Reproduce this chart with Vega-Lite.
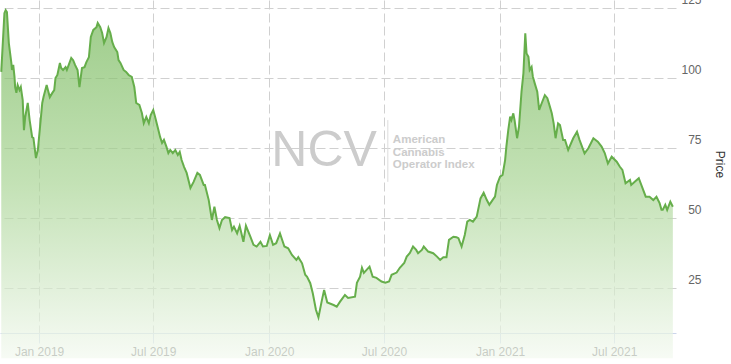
{
  "$schema": "https://vega.github.io/schema/vega-lite/v6.json",
  "width": 676,
  "height": 333,
  "autosize": {"type": "none"},
  "padding": {"left": 0, "top": 0, "right": 55, "bottom": 31},
  "background": "white",
  "config": {"view": {"stroke": null}, "font": "Liberation Sans"},
  "datasets": {
    "price": [
      {"date":"2018-11-02","price":102.3},{"date":"2018-11-07","price":123.3},{"date":"2018-11-09","price":124.4},{"date":"2018-11-11","price":123.7},{"date":"2018-11-14","price":112.6},{"date":"2018-11-18","price":105.5},{"date":"2018-11-19","price":103.0},{"date":"2018-11-21","price":104.8},{"date":"2018-11-23","price":100.5},{"date":"2018-11-24","price":96.9},{"date":"2018-11-26","price":94.8},{"date":"2018-11-28","price":97.6},{"date":"2018-12-01","price":95.8},{"date":"2018-12-03","price":96.9},{"date":"2018-12-06","price":92.2},{"date":"2018-12-08","price":81.5},{"date":"2018-12-10","price":86.2},{"date":"2018-12-14","price":91.2},{"date":"2018-12-17","price":85.1},{"date":"2018-12-21","price":79.0},{"date":"2018-12-23","price":78.7},{"date":"2018-12-27","price":71.5},{"date":"2018-12-30","price":74.4},
      {"date":"2019-01-02","price":81.5},{"date":"2019-01-06","price":91.2},{"date":"2019-01-08","price":93.3},{"date":"2019-01-13","price":97.6},{"date":"2019-01-15","price":95.8},{"date":"2019-01-18","price":93.3},{"date":"2019-01-22","price":94.8},{"date":"2019-01-25","price":95.8},{"date":"2019-01-27","price":100.1},{"date":"2019-01-30","price":101.2},{"date":"2019-02-03","price":105.5},{"date":"2019-02-05","price":103.7},{"date":"2019-02-08","price":103.0},{"date":"2019-02-12","price":104.0},{"date":"2019-02-14","price":103.0},{"date":"2019-02-17","price":104.8},{"date":"2019-02-21","price":107.3},{"date":"2019-02-24","price":106.5},{"date":"2019-02-27","price":104.8},{"date":"2019-03-03","price":103.0},{"date":"2019-03-06","price":96.9},{"date":"2019-03-10","price":103.7},{"date":"2019-03-14","price":104.0},{"date":"2019-03-17","price":105.8},{"date":"2019-03-21","price":107.6},{"date":"2019-03-24","price":114.8},{"date":"2019-03-28","price":117.3},{"date":"2019-04-02","price":118.3},{"date":"2019-04-04","price":119.8},{"date":"2019-04-08","price":118.3},{"date":"2019-04-11","price":116.2},{"date":"2019-04-14","price":112.6},{"date":"2019-04-18","price":114.8},{"date":"2019-04-21","price":118.0},{"date":"2019-04-24","price":116.2},{"date":"2019-04-27","price":113.0},{"date":"2019-04-30","price":111.2},{"date":"2019-05-05","price":109.4},{"date":"2019-05-07","price":106.5},{"date":"2019-05-10","price":105.5},{"date":"2019-05-15","price":103.0},{"date":"2019-05-19","price":102.3},{"date":"2019-05-23","price":101.2},{"date":"2019-05-28","price":100.5},{"date":"2019-06-01","price":96.9},{"date":"2019-06-04","price":91.2},{"date":"2019-06-09","price":90.5},{"date":"2019-06-13","price":87.6},{"date":"2019-06-16","price":84.0},{"date":"2019-06-20","price":86.2},{"date":"2019-06-24","price":84.0},{"date":"2019-06-27","price":86.9},{"date":"2019-07-01","price":88.7},{"date":"2019-07-04","price":86.2},{"date":"2019-07-08","price":82.6},{"date":"2019-07-12","price":79.0},{"date":"2019-07-15","price":76.9},{"date":"2019-07-18","price":78.0},{"date":"2019-07-22","price":75.5},{"date":"2019-07-25","price":73.3},{"date":"2019-07-28","price":74.4},{"date":"2019-08-01","price":73.3},{"date":"2019-08-05","price":74.4},{"date":"2019-08-09","price":72.6},{"date":"2019-08-12","price":73.7},{"date":"2019-08-15","price":70.8},{"date":"2019-08-19","price":68.3},{"date":"2019-08-23","price":66.2},{"date":"2019-08-29","price":60.8},{"date":"2019-09-03","price":63.0},{"date":"2019-09-09","price":66.2},{"date":"2019-09-13","price":65.5},{"date":"2019-09-19","price":61.9},{"date":"2019-09-21","price":61.9},{"date":"2019-09-27","price":56.5},{"date":"2019-10-02","price":49.4},{"date":"2019-10-06","price":54.1},{"date":"2019-10-10","price":49.4},{"date":"2019-10-14","price":46.5},{"date":"2019-10-18","price":49.4},{"date":"2019-10-23","price":50.4},{"date":"2019-10-30","price":50.1},{"date":"2019-11-03","price":45.8},{"date":"2019-11-06","price":47.0},{"date":"2019-11-11","price":44.6},{"date":"2019-11-15","price":47.3},{"date":"2019-11-21","price":41.6},{"date":"2019-11-25","price":47.3},{"date":"2019-12-02","price":43.4},{"date":"2019-12-07","price":40.5},{"date":"2019-12-12","price":39.9},{"date":"2019-12-18","price":41.6},{"date":"2019-12-22","price":39.9},{"date":"2019-12-28","price":40.1},
      {"date":"2020-01-02","price":44.0},{"date":"2020-01-07","price":40.5},{"date":"2020-01-12","price":41.1},{"date":"2020-01-18","price":44.6},{"date":"2020-01-25","price":39.9},{"date":"2020-01-31","price":39.3},{"date":"2020-02-06","price":36.9},{"date":"2020-02-13","price":35.1},{"date":"2020-02-16","price":36.1},{"date":"2020-02-22","price":33.9},{"date":"2020-02-27","price":29.8},{"date":"2020-03-01","price":29.1},{"date":"2020-03-06","price":26.8},{"date":"2020-03-10","price":23.2},{"date":"2020-03-15","price":17.3},{"date":"2020-03-19","price":14.6},{"date":"2020-03-24","price":20.2},{"date":"2020-03-28","price":24.4},{"date":"2020-04-02","price":19.9},{"date":"2020-04-12","price":19.0},{"date":"2020-04-17","price":18.4},{"date":"2020-04-22","price":20.1},{"date":"2020-04-30","price":22.6},{"date":"2020-05-05","price":21.5},{"date":"2020-05-16","price":22.0},{"date":"2020-05-19","price":26.9},{"date":"2020-05-24","price":29.1},{"date":"2020-05-27","price":32.3},{"date":"2020-05-30","price":30.5},{"date":"2020-06-08","price":32.7},{"date":"2020-06-13","price":29.1},{"date":"2020-06-19","price":28.7},{"date":"2020-06-27","price":27.4},{"date":"2020-07-03","price":27.0},{"date":"2020-07-09","price":27.4},{"date":"2020-07-13","price":29.8},{"date":"2020-07-21","price":30.6},{"date":"2020-07-26","price":32.3},{"date":"2020-08-02","price":34.0},{"date":"2020-08-06","price":36.3},{"date":"2020-08-11","price":37.6},{"date":"2020-08-16","price":39.9},{"date":"2020-08-21","price":38.7},{"date":"2020-08-24","price":37.5},{"date":"2020-08-30","price":38.7},{"date":"2020-09-02","price":39.9},{"date":"2020-09-09","price":38.1},{"date":"2020-09-17","price":37.5},{"date":"2020-09-23","price":36.3},{"date":"2020-09-28","price":35.1},{"date":"2020-10-03","price":36.1},{"date":"2020-10-08","price":36.1},{"date":"2020-10-12","price":42.3},{"date":"2020-10-19","price":43.4},{"date":"2020-10-24","price":43.2},{"date":"2020-10-27","price":42.9},{"date":"2020-11-01","price":39.9},{"date":"2020-11-06","price":44.0},{"date":"2020-11-10","price":48.8},{"date":"2020-11-14","price":49.4},{"date":"2020-11-19","price":48.8},{"date":"2020-11-25","price":50.6},{"date":"2020-12-01","price":57.1},{"date":"2020-12-06","price":59.1},{"date":"2020-12-11","price":56.5},{"date":"2020-12-15","price":54.8},{"date":"2020-12-20","price":56.5},{"date":"2020-12-24","price":57.7},{"date":"2020-12-27","price":61.9},
      {"date":"2021-01-01","price":64.9},{"date":"2021-01-05","price":65.5},{"date":"2021-01-09","price":70.8},{"date":"2021-01-11","price":75.6},{"date":"2021-01-14","price":81.5},{"date":"2021-01-17","price":86.3},{"date":"2021-01-19","price":85.1},{"date":"2021-01-22","price":87.5},{"date":"2021-01-24","price":85.1},{"date":"2021-01-28","price":78.6},{"date":"2021-01-31","price":82.7},{"date":"2021-02-04","price":95.2},{"date":"2021-02-07","price":101.8},{"date":"2021-02-10","price":116.1},{"date":"2021-02-12","price":108.9},{"date":"2021-02-15","price":107.7},{"date":"2021-02-17","price":103.0},{"date":"2021-02-20","price":104.1},{"date":"2021-02-22","price":100.6},{"date":"2021-02-25","price":98.2},{"date":"2021-03-01","price":95.2},{"date":"2021-03-04","price":88.7},{"date":"2021-03-08","price":91.1},{"date":"2021-03-13","price":94.0},{"date":"2021-03-17","price":92.9},{"date":"2021-03-21","price":89.9},{"date":"2021-03-24","price":87.5},{"date":"2021-03-27","price":83.9},{"date":"2021-03-30","price":78.6},{"date":"2021-04-03","price":83.9},{"date":"2021-04-06","price":83.3},{"date":"2021-04-11","price":78.0},{"date":"2021-04-14","price":78.0},{"date":"2021-04-19","price":74.4},{"date":"2021-04-27","price":78.6},{"date":"2021-05-03","price":80.9},{"date":"2021-05-07","price":78.0},{"date":"2021-05-15","price":73.2},{"date":"2021-05-21","price":75.0},{"date":"2021-05-29","price":78.6},{"date":"2021-06-05","price":77.4},{"date":"2021-06-11","price":75.6},{"date":"2021-06-16","price":73.3},{"date":"2021-06-21","price":69.6},{"date":"2021-06-27","price":72.0},{"date":"2021-07-05","price":70.2},{"date":"2021-07-10","price":68.4},{"date":"2021-07-14","price":67.3},{"date":"2021-07-19","price":62.5},{"date":"2021-07-26","price":63.7},{"date":"2021-07-28","price":61.9},{"date":"2021-08-03","price":63.1},{"date":"2021-08-09","price":64.3},{"date":"2021-08-14","price":61.3},{"date":"2021-08-20","price":57.7},{"date":"2021-08-26","price":57.7},{"date":"2021-09-01","price":56.5},{"date":"2021-09-06","price":57.7},{"date":"2021-09-11","price":55.4},{"date":"2021-09-14","price":53.0},{"date":"2021-09-16","price":53.0},{"date":"2021-09-20","price":54.8},{"date":"2021-09-23","price":53.0},{"date":"2021-09-28","price":55.9},{"date":"2021-10-02","price":54.1}
    ],
    "logo": [{"date":"2020-03-28","price":68.7,"label":"NCV"}],
    "logoSub": [
      {"date":"2020-07-15","price":78.0,"label":"American"},
      {"date":"2020-07-15","price":73.4,"label":"Cannabis"},
      {"date":"2020-07-15","price":69.0,"label":"Operator Index"}
    ],
    "logoSep": [{"date":"2020-07-07","price":85.1,"price2":63.0}]
  },
  "encoding": {
    "x": {
      "field": "date",
      "type": "temporal",
      "scale": {
        "type": "utc",
        "domain": [{"year":2018,"month":10,"date":31,"utc":true},{"year":2021,"month":10,"date":7,"utc":true}]
      },
      "axis": {
        "title": null,
        "format": "%b %Y",
        "values": [
          {"year":2019,"month":1,"date":1,"utc":true},
          {"year":2019,"month":7,"date":1,"utc":true},
          {"year":2020,"month":1,"date":1,"utc":true},
          {"year":2020,"month":7,"date":1,"utc":true},
          {"year":2021,"month":1,"date":1,"utc":true},
          {"year":2021,"month":7,"date":1,"utc":true}
        ],
        "labelFlush": false,
        "labelOverlap": false,
        "labelFont": "Liberation Sans",
        "labelFontSize": 12,
        "labelColor": "#666666",
        "labelPadding": 3,
        "domainColor": "#ccd6eb",
        "tickColor": "#ccd6eb",
        "tickSize": 10,
        "grid": true,
        "gridColor": "#d0d0d0",
        "gridDash": [9, 4],
        "gridWidth": 1
      }
    },
    "y": {
      "field": "price",
      "type": "quantitative",
      "scale": {"domain": [9, 128], "nice": false, "zero": false},
      "axis": {
        "orient": "right",
        "title": "Price",
        "titleFont": "Liberation Sans",
        "titleFontSize": 12,
        "titleFontWeight": "normal",
        "titleColor": "#333333",
        "titleAngle": 90,
        "titleAlign": "center",
        "titleBaseline": "middle",
        "titleX": 43,
        "titleY": 164,
        "values": [25, 50, 75, 100, 125],
        "domain": false,
        "ticks": false,
        "tickSize": 0,
        "labelAlign": "right",
        "labelBaseline": "bottom",
        "labelOffset": -2,
        "labelPadding": 25,
        "labelFont": "Liberation Sans",
        "labelFontSize": 12,
        "labelColor": "#666666",
        "labelOverlap": false,
        "grid": true,
        "gridColor": "#d0d0d0",
        "gridDash": [9, 4],
        "gridWidth": 1
      }
    }
  },
  "layer": [
    {
      "data": {"name": "logo"},
      "mark": {"type": "text", "font": "Liberation Sans", "fontSize": 50, "color": "#cccccc", "align": "center", "baseline": "alphabetic"},
      "encoding": {"text": {"field": "label"}}
    },
    {
      "data": {"name": "logoSub"},
      "mark": {"type": "text", "font": "Liberation Sans", "fontSize": 11.5, "fontWeight": "bold", "color": "#cccccc", "align": "left", "baseline": "middle"},
      "encoding": {"text": {"field": "label"}}
    },
    {
      "data": {"name": "logoSep"},
      "mark": {"type": "rule", "color": "#dddddd", "strokeWidth": 1},
      "encoding": {"y2": {"field": "price2"}}
    },
    {
      "data": {"name": "price"},
      "mark": {
        "type": "area",
        "color": {
          "gradient": "linear",
          "x1": 0, "y1": 0, "x2": 0, "y2": 1,
          "stops": [
            {"offset": 0, "color": "#74b758"},
            {"offset": 0.5, "color": "#aad596"},
            {"offset": 1, "color": "#f3f9f0"}
          ]
        },
        "line": {"color": "#66ae4b", "strokeWidth": 2}
      }
    }
  ]
}
